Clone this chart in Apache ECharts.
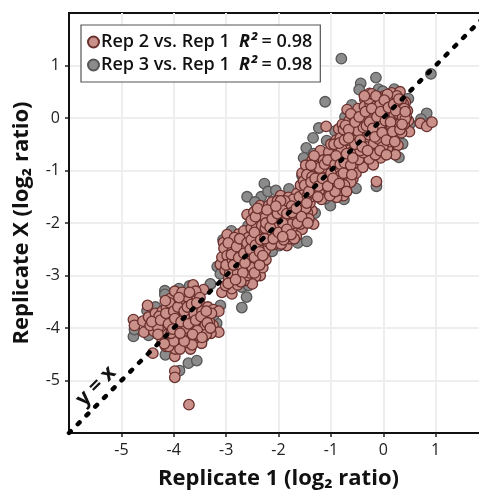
<!DOCTYPE html>
<html><head><meta charset="utf-8">
<style>html,body{margin:0;padding:0;background:#fff}#c{width:479px;height:490px}</style>
<script src="https://cdn.jsdelivr.net/npm/echarts@6/dist/echarts.min.js"></script>
</head><body><div id="c"></div>
<script>
const xTicks=[-5,-4,-3,-2,-1,0,1];
const yTicks=[-5,-4,-3,-2,-1,0,1];
const identityLine=[[-6,-6],[2,2]];
const seriesNames=['Rep 2 vs. Rep 1','Rep 3 vs. Rep 1'];
const rSquared=['0.98','0.98'];
const rep3=[[-4.17,-3.29],[-4.17,-3.36],[-4.35,-3.60],[-4.51,-3.67],[-4.77,-4.16],[-4.75,-4.03],[-4.16,-4.51],[-3.72,-4.67],[-3.56,-4.62],[-3.89,-4.81],[-3.30,-3.17],[-3.11,-3.57],[-3.18,-3.91],[-3.24,-3.76],[-3.33,-4.08],[-3.43,-4.18],[-4.48,-4.14],[-3.9,-3.25],[-3.7,-3.2],
[-2.60,-1.50],[-2.33,-1.50],[-2.27,-1.25],[-3.06,-2.32],[-2.12,-2.54],[-1.98,-2.43],[-1.63,-2.38],[-1.46,-2.35],[-1.30,-1.81],[-2.61,-3.41],[-2.70,-3.61],[-2.70,-3.22],[-3.17,-2.83],[-3.11,-2.97],[-2.31,-2.71],[-2.57,-3.19],[-3.30,-3.16],[-2.58,-2.05],[-2.2,-1.4],[-2.05,-1.38],[-2.45,-1.6],[-1.8,-1.35],[-2.9,-2.15],
[-0.14,0.77],[-0.43,0.66],[-0.46,0.54],[-1.11,0.31],[-0.09,0.55],[-0.01,0.51],[0.21,0.55],[0.48,0.37],[0.83,0.09],[0.91,0.84],[-1.23,-0.19],[-1.34,-0.38],[-1.47,-0.57],[-1.08,-0.43],[-1.52,-0.76],[-1.33,-0.68],[-0.50,0.15],[-0.73,0.02],[-0.92,-0.25],[0.51,-0.11],[0.37,-0.49],[-0.13,-1.30],[-0.57,-1.32],[-0.52,-1.34],[-1.01,-1.67],[-1.11,-1.54],[-0.80,1.13],[-0.25,0.35],[0.1,0.3],[-0.3,-0.85],[0.2,-0.6],[0.72,-0.02],[-0.6,0.25],[-1.2,-0.72],[-0.62,-0.2],[0.3,-0.75],[-0.75,-1.55],[-1.55,-1.1]];
const rep2=[[-4.77,-3.84],[-4.75,-3.95],[-4.50,-3.57],[-4.59,-3.87],[-4.57,-4.08],[-4.48,-3.79],[-4.35,-3.72],[-4.38,-4.06],[-4.22,-3.68],[-4.34,-3.86],[-4.07,-3.44],[-3.81,-3.35],[-3.63,-3.18],[-3.43,-3.27],[-3.63,-3.41],[-3.49,-3.57],[-3.35,-3.60],[-3.24,-3.65],[-3.14,-3.68],[-3.35,-3.78],[-3.25,-3.95],[-3.14,-4.08],[-3.29,-4.10],[-3.47,-4.29],[-3.68,-4.40],[-3.98,-4.54],[-4.15,-4.35],[-3.97,-4.40],[-4.40,-4.48],[-3.98,-4.82],[-3.98,-4.94],[-3.71,-5.46],
[-4.2,-3.9],[-4.12,-4.02],[-4.05,-3.75],[-4.02,-3.6],[-3.95,-3.52],[-3.88,-3.64],[-3.9,-3.82],[-3.82,-3.95],[-3.78,-3.72],[-3.73,-3.5],[-3.7,-3.66],[-3.66,-3.85],[-3.6,-4.0],[-3.55,-3.75],[-3.52,-3.9],[-3.45,-4.02],[-3.42,-3.82],[-3.72,-4.1],[-3.85,-4.18],[-3.97,-4.08],[-4.08,-4.2],[-4.18,-4.12],[-4.25,-3.98],[-3.9,-4.3],[-3.78,-4.28],[-3.6,-4.2],[-3.52,-4.15],[-4.02,-3.9],[-3.95,-4.0],[-3.85,-3.45],[-4.14,-3.62],[-4.28,-3.78],[-3.68,-3.98],[-3.75,-3.85],[-3.82,-4.08],[-3.95,-3.72],[-4.1,-4.35],[-3.6,-3.6],[-3.4,-3.95],
[-4.45,-3.95],[-4.3,-4.0],[-4.22,-4.25],[-4.13,-3.8],[-4.08,-3.52],[-3.98,-3.3],[-3.92,-3.95],[-3.88,-4.4],[-3.8,-3.55],[-3.76,-4.0],[-3.7,-4.22],[-3.62,-3.72],[-3.58,-3.3],[-3.55,-4.05],[-3.5,-3.42],[-3.46,-3.68],[-3.38,-4.12],[-3.32,-3.88],[-3.28,-3.72],[-3.92,-4.18],[-4.0,-4.25],[-4.05,-4.1],[-3.8,-3.78],[-3.65,-4.32],[-4.16,-3.48],[-3.75,-3.4],
[-3.08,-3.32],[-2.89,-3.35],[-2.89,-3.25],[-3.01,-3.19],[-3.11,-2.79],[-3.05,-2.37],[-2.92,-2.32],[-2.76,-2.21],[-2.60,-2.17],[-2.35,-3.00],[-2.44,-3.02],[-2.50,-3.16],[-2.66,-3.10],[-2.76,-2.90],
[-3.0,-2.55],[-2.95,-2.72],[-3.02,-2.9],[-2.92,-2.45],[-2.85,-2.6],[-2.82,-2.38],[-2.9,-2.85],[-2.8,-2.75],[-2.72,-2.5],[-2.68,-2.32],[-2.7,-2.68],[-2.62,-2.85],[-2.6,-2.58],[-2.55,-2.4],[-2.52,-2.72],[-2.48,-2.25],[-2.45,-2.55],[-2.42,-2.85],[-2.38,-2.4],[-2.35,-2.68],[-2.85,-2.98],[-2.75,-3.05],[-2.6,-3.0],[-2.95,-3.05],[-3.08,-2.65],[-2.98,-2.22],[-2.66,-2.15],[-2.3,-2.85],[-2.28,-2.55],[-2.55,-2.95],
[-3.04,-2.48],[-2.98,-2.62],[-2.93,-2.95],[-2.88,-2.52],[-2.84,-2.28],[-2.78,-2.58],[-2.78,-2.95],[-2.74,-2.42],[-2.7,-2.82],[-2.65,-2.45],[-2.58,-2.28],[-2.56,-2.62],[-2.5,-2.85],[-2.47,-2.42],[-2.4,-2.7],[-2.34,-2.2],[-2.3,-2.4],[-2.68,-2.95],[-3.0,-2.8],[-2.88,-2.7],[-2.62,-2.7],[-2.42,-2.12],[-2.52,-2.1],[-2.24,-2.7],[-2.46,-2.95],
[-2.60,-1.84],[-2.47,-1.79],[-2.35,-1.67],[-2.19,-1.67],[-1.96,-1.48],[-1.81,-1.51],[-1.65,-1.44],[-1.46,-1.57],[-1.36,-1.76],[-1.33,-2.02],[-1.65,-2.08],[-1.84,-2.43],[-2.06,-2.40],[-2.25,-2.52],[-2.38,-2.49],
[-2.42,-2.05],[-2.35,-1.9],[-2.3,-2.2],[-2.22,-2.35],[-2.2,-2.0],[-2.15,-1.82],[-2.1,-2.15],[-2.05,-1.95],[-2.02,-2.28],[-1.98,-1.7],[-1.92,-1.88],[-1.9,-2.1],[-1.85,-2.28],[-1.82,-1.65],[-1.78,-1.92],[-1.72,-2.12],[-1.7,-1.75],[-1.62,-1.6],[-1.6,-1.9],[-1.55,-1.72],[-1.5,-1.95],[-1.45,-1.8],[-1.78,-2.3],[-2.0,-2.08],[-2.28,-1.78],[-1.72,-1.55],[-1.95,-2.4],[-2.12,-1.6],[-1.55,-2.12],[-1.4,-1.62],
[-2.38,-2.28],[-2.32,-2.05],[-2.26,-1.9],[-2.18,-2.22],[-2.14,-2.42],[-2.08,-1.75],[-2.06,-2.05],[-1.98,-1.92],[-1.95,-2.18],[-1.88,-1.58],[-1.86,-1.98],[-1.8,-2.2],[-1.75,-1.68],[-1.75,-2.02],[-1.68,-1.85],[-1.66,-2.25],[-1.58,-1.78],[-1.58,-2.02],[-1.52,-1.5],[-1.48,-1.72],[-1.42,-1.92],[-1.38,-1.5],[-2.52,-1.95],[-2.44,-1.88],[-2.4,-1.72],[-2.25,-2.1],[-1.9,-2.32],[-2.02,-1.58],[-1.7,-2.3],[-1.6,-1.5],
[-1.36,-0.81],[-0.76,-1.48],[-0.89,-1.51],[-0.79,-1.25],[-0.58,-1.16],[-1.5,-1.38],[-1.42,-1.18],[-1.4,-0.98],[-1.32,-1.3],[-1.28,-1.05],[-1.25,-0.82],[-1.2,-1.22],[-1.15,-0.95],[-1.12,-1.4],[-1.1,-0.72],[-1.05,-1.12],[-1.02,-0.85],[-0.98,-1.3],[-0.95,-0.62],[-0.92,-1.0],[-0.88,-1.18],[-0.85,-0.78],[-0.8,-1.38],[-0.78,-0.95],[-0.72,-0.58],[-0.7,-1.12],[-0.65,-0.82],[-0.6,-0.98],[-0.55,-0.65],[-1.28,-1.45],[-1.18,-1.55],[-1.02,-1.48],[-1.55,-1.05],[-1.48,-0.9],[-1.2,-0.62],[-1.45,-1.48],[-0.92,-1.4],[-0.62,-1.22],
[-1.58,-1.28],[-1.52,-1.2],[-1.46,-1.08],[-1.44,-1.3],[-1.36,-1.12],[-1.36,-1.42],[-1.3,-0.92],[-1.26,-1.2],[-1.22,-1.38],[-1.18,-1.05],[-1.14,-0.8],[-1.1,-1.28],[-1.08,-0.95],[-1.04,-0.65],[-1.0,-1.2],[-0.98,-0.98],[-0.96,-0.78],[-0.86,-0.98],[-0.86,-0.62],[-0.82,-1.1],[-0.76,-0.75],[-0.74,-1.28],[-0.68,-0.95],[-0.66,-0.68],[-0.56,-0.88],[-0.52,-1.05],[-1.32,-0.72],[-1.0,-0.5],[-1.25,-1.5],[-0.7,-1.4],
[-0.26,0.47],[-0.24,0.38],[0.16,0.48],[0.32,0.50],[0.42,0.30],[0.46,0.14],[0.48,-0.05],[0.50,-0.26],[0.71,-0.10],[0.83,-0.16],[0.93,-0.08],[0.25,-0.31],[0.28,-0.52],[0.23,-0.70],[-0.05,-0.76],[-0.19,-0.89],[-0.27,-0.78],[-0.39,-0.94],[-0.13,-1.21],[-0.69,0.16],[-1.09,-0.16],[-0.85,-0.21],[-0.47,-0.79],
[-0.9,-0.42],[-0.82,-0.38],[-0.78,-0.12],[-0.7,-0.3],[-0.65,-0.05],[-0.62,-0.48],[-0.58,-0.18],[-0.55,-0.35],[-0.52,0.05],[-0.48,-0.52],[-0.46,-0.12],[-0.42,-0.28],[-0.4,0.12],[-0.38,-0.66],[-0.35,-0.05],[-0.32,-0.42],[-0.3,0.22],[-0.28,-0.2],[-0.25,-0.58],[-0.22,0.05],[-0.2,-0.32],[-0.18,0.3],[-0.15,-0.12],[-0.12,-0.5],[-0.1,0.18],[-0.08,-0.28],[-0.05,0.38],[-0.02,-0.05],[0,-0.4],[0.02,0.22],[0.05,-0.18],[0.08,-0.58],[0.1,0.05],[0.12,0.35],[0.15,-0.3],[0.18,0.15],[0.2,-0.08],[0.22,0.3],[0.25,0.02],[0.28,-0.2],[0.3,0.2],[0.33,-0.05],[0.36,0.1],[0.38,0.28],[0.4,-0.12],[0.44,0.02],[0.12,-0.45],[-0.15,-0.7],[-0.08,0.08],[-0.35,0.35],[0.02,0.42],[-0.2,0.42],[0.35,-0.28],[-0.48,0.18],[-0.72,-0.52],[-0.6,-0.65],
[-0.88,-0.55],[-0.8,-0.58],[-0.76,-0.22],[-0.68,-0.42],[-0.6,-0.32],[-0.56,0.02],[-0.5,-0.42],[-0.48,-0.25],[-0.44,-0.62],[-0.42,-0.02],[-0.38,-0.18],[-0.36,0.22],[-0.33,-0.55],[-0.3,0.08],[-0.27,-0.32],[-0.25,0.26],[-0.23,-0.1],[-0.18,-0.48],[-0.16,0.12],[-0.13,-0.22],[-0.11,0.4],[-0.09,-0.4],[-0.06,0.26],[-0.04,-0.16],[-0.01,-0.55],[0.01,0.1],[0.03,-0.28],[0.06,0.32],[0.09,-0.08],[0.11,-0.3],[0.14,0.22],[0.16,-0.16],[0.19,0.38],[0.21,0.06],[0.24,-0.18],[0.27,0.28],[0.29,0.08],[0.31,-0.12],[0.34,0.34],[0.37,0.02],[0.4,0.18],[0.42,-0.02],[-0.28,0.36],[-0.22,0.46],[0.26,0.42],[0.08,0.45]];
const rep2Dense=[[-4.42,-3.88],[-4.25,-3.85],[-4.15,-3.72],[-4.1,-3.92],[-4.0,-3.68],[-3.98,-3.82],[-3.92,-3.6],[-3.86,-3.88],[-3.8,-3.68],[-3.8,-4.25],[-3.74,-3.6],[-3.72,-3.92],[-3.66,-3.55],[-3.64,-4.12],[-3.58,-3.85],[-3.56,-3.52],[-3.48,-3.78],[-3.46,-4.18],[-3.38,-3.68],[-3.36,-3.9],[-3.3,-4.0],[-4.02,-4.02],[-3.88,-4.1],[-4.18,-4.3],[-3.84,-3.32],[-3.7,-3.32],[-3.9,-3.42],[-4.3,-4.12],
[-2.96,-2.38],[-2.9,-2.6],[-2.86,-2.8],[-2.8,-2.45],[-2.76,-2.66],[-2.74,-2.3],[-2.66,-2.58],[-2.64,-2.76],[-2.6,-2.38],[-2.54,-2.5],[-2.52,-2.32],[-2.46,-2.65],[-2.44,-2.42],[-2.36,-2.55],[-2.36,-2.8],[-2.78,-3.18],[-2.96,-3.15],[-2.72,-3.12],[-2.82,-3.08],[-2.3,-2.62],
[-2.46,-2.18],[-2.34,-2.32],[-2.26,-2.3],[-2.24,-2.0],[-2.16,-2.08],[-2.12,-1.92],[-2.1,-2.3],[-2.02,-1.82],[-2.0,-2.18],[-1.92,-1.76],[-1.92,-2.0],[-1.84,-1.82],[-1.84,-2.12],[-1.76,-2.22],[-1.74,-1.8],[-1.66,-1.72],[-1.64,-2.0],[-1.56,-1.88],[-1.46,-1.62],[-1.44,-2.0],[-1.96,-1.58],[-2.22,-1.75],[-2.05,-1.68],[-1.92,-2.26],
[-1.5,-1.28],[-1.42,-1.4],[-1.38,-1.22],[-1.3,-1.15],[-1.24,-1.3],[-1.22,-0.95],[-1.16,-1.15],[-1.12,-0.88],[-1.06,-1.3],[-1.06,-0.8],[-1.0,-1.05],[-0.96,-1.15],[-0.92,-0.88],[-0.9,-0.72],[-0.84,-1.25],[-0.82,-0.88],[-0.76,-1.05],[-0.74,-0.85],[-0.7,-0.68],[-0.62,-0.9],[-0.6,-1.08],[-0.58,-0.76],[-1.38,-0.9],
[-0.94,-0.5],[-0.84,-0.48],[-0.74,-0.42],[-0.72,-0.14],[-0.66,-0.22],[-0.62,0.08],[-0.54,-0.5],[-0.54,-0.08],[-0.46,0.02],[-0.44,-0.42],[-0.4,-0.55],[-0.34,0.12],[-0.32,-0.15],[-0.3,-0.62],[-0.26,-0.08],[-0.22,0.18],[-0.2,-0.2],[-0.16,-0.36],[-0.14,0.42],[-0.12,0.02],[-0.06,-0.62],[-0.05,0.12],[-0.02,-0.28],[0.02,0.34],[0.04,-0.05],[0.06,-0.42],[0.1,0.2],[0.14,-0.08],[0.18,-0.26],[0.2,0.26],[0.24,0.14],[0.3,0.36],[0.32,-0.22],[0.36,-0.12],[0.42,0.12],[0.22,-0.45],[-0.36,0.42],[-0.66,-0.38],[0.06,-0.7]];

const fonts='"Open Sans","Noto Sans",sans-serif';
const chart=echarts.init(document.getElementById('c'),null,{renderer:'canvas'});
function axis(ticks,name,extra){return Object.assign({type:'value',min:-6,max:2,interval:1,name:name,nameLocation:'middle',
 nameTextStyle:{fontFamily:fonts,fontWeight:'bold',fontSize:22,color:'#111'},
 axisLine:{show:true,onZero:false,lineStyle:{color:'#111',width:2}},
 axisTick:{show:true,length:4,customValues:ticks,lineStyle:{color:'#222',width:1.5}},
 axisLabel:{customValues:ticks,fontFamily:fonts,fontSize:16,color:'#222',margin:9,formatter:v=>String(v)},
 splitLine:{show:true,lineStyle:{color:'#eeeeee',width:2}}},extra);}
chart.setOption({animation:false,backgroundColor:'#fff',
 grid:{left:69,top:13,width:419,height:420,show:true,borderColor:'#111',borderWidth:2,backgroundColor:'#fff',outerBoundsMode:'none'},
 xAxis:axis(xTicks,'Replicate 1 (log₂ ratio)',{nameGap:35}),
 yAxis:axis(yTicks,'Replicate X (log₂ ratio)',{nameGap:36}),
 legend:{left:81,top:25,orient:'vertical',data:seriesNames,selectedMode:false,icon:'circle',itemWidth:11,itemHeight:11,itemGap:3,
  backgroundColor:'#fff',borderColor:'#555',borderWidth:1.2,borderRadius:0,padding:[7,8,7,6],
  formatter:n=>n+'  {b|R²}{t| = '+rSquared[seriesNames.indexOf(n)]+'}',
  textStyle:{fontFamily:fonts,fontSize:18,fontWeight:600,color:'#111',lineHeight:20,padding:[0,0,0,-3],
   rich:{b:{fontFamily:fonts,fontSize:18,fontWeight:'bold',fontStyle:'italic',color:'#111'},t:{fontFamily:fonts,fontSize:18,fontWeight:600,color:'#111'}}}},
 graphic:[{type:'text',left:72,top:362,rotation:Math.PI/4,style:{text:'y = x',fontFamily:fonts,fontSize:21,fontWeight:'bold',fill:'#111'},z:20}],
 series:[
  {name:seriesNames[1],type:'scatter',data:rep3,symbolSize:10.5,z:2,itemStyle:{color:'#8b8b8b',borderColor:'#565656',borderWidth:1.3,opacity:1}},
  {name:seriesNames[0],type:'scatter',data:rep2.concat(rep2Dense),symbolSize:10.5,z:3,itemStyle:{color:'#ca908a',borderColor:'#6a302d',borderWidth:1.3,opacity:1}},
  {type:'line',data:identityLine,symbol:'none',z:5,silent:true,lineStyle:{color:'#000',width:4.5,type:[2.5,9.9],cap:'round'}}
 ]});
</script></body></html>
